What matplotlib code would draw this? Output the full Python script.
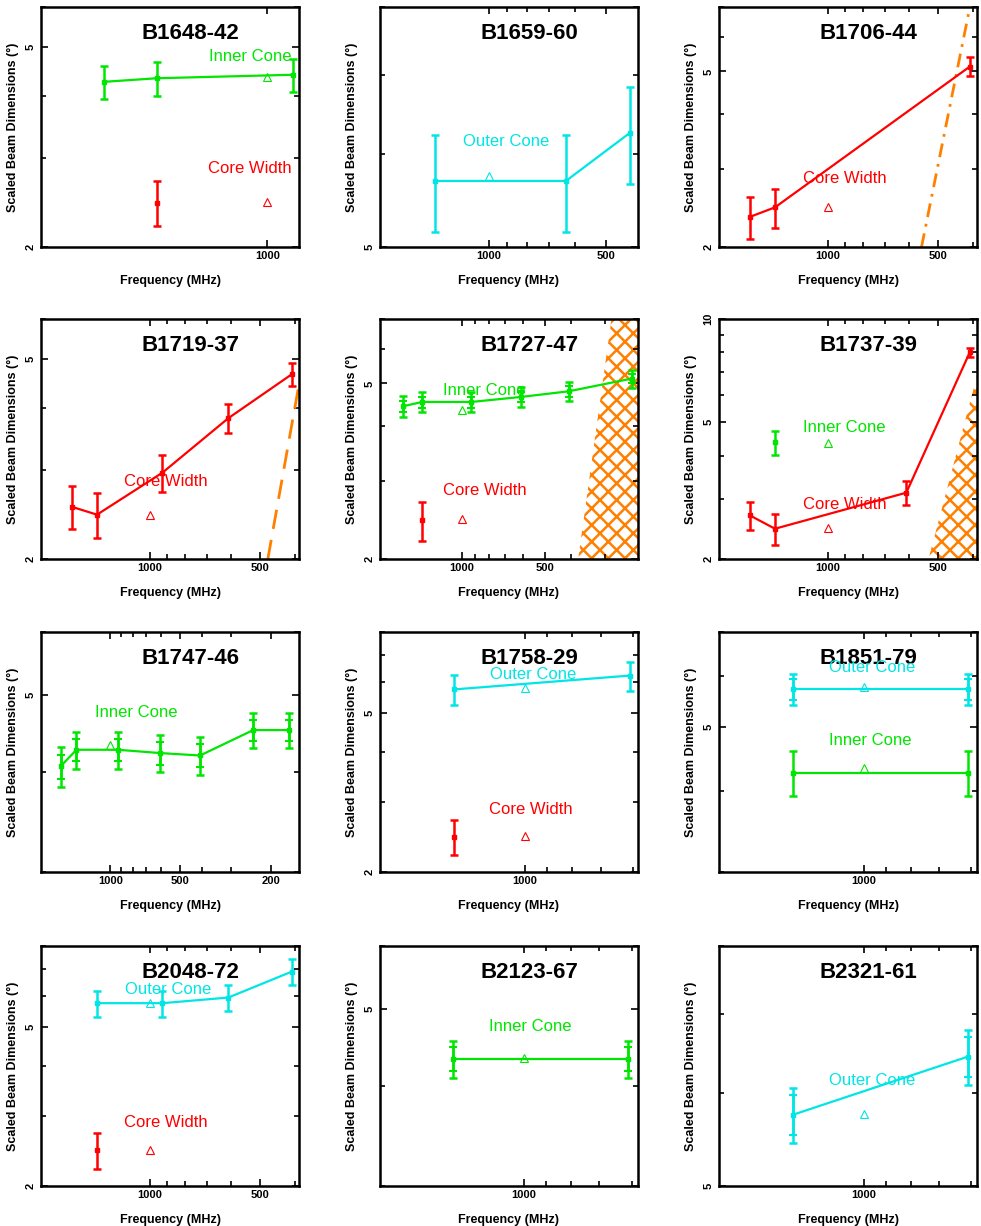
import numpy as np
import matplotlib.pyplot as plt
from matplotlib.ticker import FixedLocator, FuncFormatter, NullFormatter

plt.rcParams['font.family'] = ['Liberation Sans', 'DejaVu Sans']
plt.rcParams['hatch.linewidth'] = 1.8

GREEN = '#00e600'
CYAN = '#00e5e5'
RED = '#ff0000'
ORANGE = '#ff8000'

# panel names in reading order
names = ['B1648-42', 'B1659-60', 'B1706-44', 'B1719-37', 'B1727-47', 'B1737-39',
         'B1747-46', 'B1758-29', 'B1851-79', 'B2048-72', 'B2123-67', 'B2321-61']

# axis ranges, frequency axis runs from high to low
x_ranges = [(1990, 908), (1900, 415), (1995, 390), (1995, 390), (1995, 228), (1995, 390),
            (1995, 152), (1980, 587), (1995, 583), (1995, 390), (1980, 583), (1995, 583)]
y_ranges = [(2, 6), (5, 8), (2, 7), (2, 6), (2, 7), (2, 10),
            (3, 6), (2, 8), (3, 7), (2, 8), (3, 6), (5, 8)]

ref_freq = 1000   # open triangles sit at 1 GHz

# B1648-42
b1648_inner_f = [1642, 1400, 925]
b1648_inner_w = [4.26, 4.33, 4.40]
b1648_inner_e = [0.32, 0.34, 0.33]
b1648_core_f = [1400]
b1648_core_w = [2.45]
b1648_core_e = [0.25]
b1648_ref = [4.35, 2.46]

# B1659-60
b1659_outer_f = [1370, 635, 436]
b1659_outer_w = [5.69, 5.69, 6.25]
b1659_outer_e = [0.54, 0.54, 0.59]
b1659_ref = [5.75]

# B1706-44
b1706_core_f = [1642, 1400, 408]
b1706_core_w = [2.34, 2.46, 5.13]
b1706_core_e = [0.25, 0.25, 0.25]
b1706_ref = [2.46]
b1706_scat_f = [554, 408]
b1706_scat_w = [2.0, 7.0]

# B1719-37
b1719_core_f = [1642, 1400, 925, 610, 408]
b1719_core_w = [2.54, 2.45, 2.97, 3.81, 4.66]
b1719_core_e = [0.25, 0.25, 0.25, 0.25, 0.25]
b1719_ref = [2.45]
b1719_scat_f = [475, 390]
b1719_scat_w = [2.0, 4.45]

# B1727-47
b1727_inner_f = [1642, 1400, 925, 610, 408, 240]
b1727_inner_w = [4.44, 4.54, 4.54, 4.66, 4.80, 5.13]
b1727_inner_e = [0.24, 0.24, 0.24, 0.24, 0.24, 0.24]
b1727_inner_e2 = [0.13, 0.13, 0.13, 0.13, 0.13, 0.13]
b1727_core_f = [1400]
b1727_core_w = [2.45]
b1727_core_e = [0.25]
b1727_ref = [4.35, 2.46]
b1727_scat_f = [377, 285, 228, 228]
b1727_scat_w = [2.0, 7.0, 7.0, 2.0]

# B1737-39
b1737_core_f = [1642, 1400, 610, 408]
b1737_core_w = [2.68, 2.45, 3.12, 8.01]
b1737_core_e = [0.25, 0.25, 0.25, 0.25]
b1737_inner_f = [1400]
b1737_inner_w = [4.37]
b1737_inner_e = [0.36]
b1737_ref = [4.36, 2.46]
b1737_scat_f = [530, 390, 390]
b1737_scat_w = [2.0, 6.84, 2.0]

# B1747-46
b1747_inner_f = [1642, 1400, 925, 610, 408, 240, 168]
b1747_inner_w = [4.07, 4.27, 4.27, 4.23, 4.20, 4.52, 4.52]
b1747_inner_e = [0.23, 0.23, 0.23, 0.23, 0.23, 0.23, 0.23]
b1747_inner_e2 = [0.14, 0.14, 0.14, 0.14, 0.14, 0.14, 0.14]
b1747_ref = [4.33]

# B1758-29
b1758_outer_f = [1400, 610]
b1758_outer_w = [5.74, 6.22]
b1758_outer_e = [0.49, 0.52]
b1758_core_f = [1400]
b1758_core_w = [2.45]
b1758_core_e = [0.25]
b1758_ref = [5.78, 2.46]

# B1851-79
b1851_outer_f = [1400, 610]
b1851_outer_w = [5.72, 5.72]
b1851_outer_e = [0.31, 0.31]
b1851_outer_e2 = [0.21, 0.21]
b1851_inner_f = [1400, 610]
b1851_inner_w = [4.26, 4.26]
b1851_inner_e = [0.34, 0.34]
b1851_ref = [5.76, 4.33]

# B2048-72
b2048_outer_f = [1400, 925, 610, 408]
b2048_outer_w = [5.75, 5.75, 5.94, 6.90]
b2048_outer_e = [0.43, 0.43, 0.45, 0.53]
b2048_core_f = [1400]
b2048_core_w = [2.46]
b2048_core_e = [0.25]
b2048_ref = [5.75, 2.46]

# B2123-67
b2123_inner_f = [1400, 610]
b2123_inner_w = [4.33, 4.33]
b2123_inner_e = [0.23, 0.23]
b2123_inner_e2 = [0.15, 0.15]
b2123_ref = [4.34]

# B2321-61
b2321_outer_f = [1400, 610]
b2321_outer_w = [5.75, 6.44]
b2321_outer_e = [0.31, 0.35]
b2321_outer_e2 = [0.22, 0.25]
b2321_ref = [5.76]

# per-panel drawing lists: (freq, width, err, inner err, colour)
series = [
    [(b1648_inner_f, b1648_inner_w, b1648_inner_e, None, GREEN),
     (b1648_core_f, b1648_core_w, b1648_core_e, None, RED)],
    [(b1659_outer_f, b1659_outer_w, b1659_outer_e, None, CYAN)],
    [(b1706_core_f, b1706_core_w, b1706_core_e, None, RED)],
    [(b1719_core_f, b1719_core_w, b1719_core_e, None, RED)],
    [(b1727_inner_f, b1727_inner_w, b1727_inner_e, b1727_inner_e2, GREEN),
     (b1727_core_f, b1727_core_w, b1727_core_e, None, RED)],
    [(b1737_core_f, b1737_core_w, b1737_core_e, None, RED),
     (b1737_inner_f, b1737_inner_w, b1737_inner_e, None, GREEN)],
    [(b1747_inner_f, b1747_inner_w, b1747_inner_e, b1747_inner_e2, GREEN)],
    [(b1758_outer_f, b1758_outer_w, b1758_outer_e, None, CYAN),
     (b1758_core_f, b1758_core_w, b1758_core_e, None, RED)],
    [(b1851_outer_f, b1851_outer_w, b1851_outer_e, b1851_outer_e2, CYAN),
     (b1851_inner_f, b1851_inner_w, b1851_inner_e, None, GREEN)],
    [(b2048_outer_f, b2048_outer_w, b2048_outer_e, None, CYAN),
     (b2048_core_f, b2048_core_w, b2048_core_e, None, RED)],
    [(b2123_inner_f, b2123_inner_w, b2123_inner_e, b2123_inner_e2, GREEN)],
    [(b2321_outer_f, b2321_outer_w, b2321_outer_e, b2321_outer_e2, CYAN)],
]
refs = [
    [(b1648_ref[0], GREEN), (b1648_ref[1], RED)],
    [(b1659_ref[0], CYAN)],
    [(b1706_ref[0], RED)],
    [(b1719_ref[0], RED)],
    [(b1727_ref[0], GREEN), (b1727_ref[1], RED)],
    [(b1737_ref[0], GREEN), (b1737_ref[1], RED)],
    [(b1747_ref[0], GREEN)],
    [(b1758_ref[0], CYAN), (b1758_ref[1], RED)],
    [(b1851_ref[0], CYAN), (b1851_ref[1], GREEN)],
    [(b2048_ref[0], CYAN), (b2048_ref[1], RED)],
    [(b2123_ref[0], GREEN)],
    [(b2321_ref[0], CYAN)],
]
labels = [
    [('Inner Cone', 0.81, 0.794, GREEN), ('Core Width', 0.81, 0.326, RED)],
    [('Outer Cone', 0.489, 0.44, CYAN)],
    [('Core Width', 0.486, 0.285, RED)],
    [('Core Width', 0.482, 0.322, RED)],
    [('Inner Cone', 0.406, 0.703, GREEN), ('Core Width', 0.406, 0.286, RED)],
    [('Inner Cone', 0.486, 0.549, GREEN), ('Core Width', 0.486, 0.228, RED)],
    [('Inner Cone', 0.37, 0.665, GREEN)],
    [('Outer Cone', 0.594, 0.821, CYAN), ('Core Width', 0.584, 0.261, RED)],
    [('Outer Cone', 0.595, 0.854, CYAN), ('Inner Cone', 0.588, 0.547, GREEN)],
    [('Outer Cone', 0.491, 0.818, CYAN), ('Core Width', 0.482, 0.264, RED)],
    [('Inner Cone', 0.583, 0.663, GREEN)],
    [('Outer Cone', 0.595, 0.441, CYAN)],
]

# log ticks: labelled at 1, 2, 5 x 10^n, plain ticks between
major_ticks = [m * 10.0 ** d for d in range(0, 4) for m in (1, 2, 5)]
minor_ticks = [m * 10.0 ** d for d in range(0, 4) for m in (3, 4, 6, 7, 8, 9)]

fig = plt.figure(figsize=(9.81, 12.26), dpi=100)
W, H = 981.0, 1226.0
col_left = [41, 380, 719]
row_bottom = [247, 559, 872, 1186]
aw, ah = 258, 240

label_fmt = FuncFormatter(lambda v, p: '%g' % v)

for i, name in enumerate(names):
    r, c = divmod(i, 3)
    ax = fig.add_axes([col_left[c] / W, 1 - row_bottom[r] / H, aw / W, ah / H])
    ax.set_xscale('log')
    ax.set_yscale('log')

    for f, w, e, e2, col in series[i]:
        if len(f) > 1:
            ax.plot(f, w, color=col, lw=1.6, zorder=3)
        ax.errorbar(f, w, yerr=e, fmt='s', ms=3, color=col, ecolor=col,
                    elinewidth=1.8, capsize=3, capthick=1.8, zorder=4)
        if e2 is not None:
            ax.errorbar(f, w, yerr=e2, fmt='none', ecolor=col,
                        elinewidth=1.8, capsize=3, capthick=1.5, zorder=4)
    for val, col in refs[i]:
        ax.plot([ref_freq], [val], '^', mfc='none', mec=col, ms=5.5, mew=0.8, zorder=5)
    for txt, tx, ty, col in labels[i]:
        ax.text(tx, ty, txt, transform=ax.transAxes, color=col, fontsize=12,
                ha='center', va='center', zorder=6)

    if name == 'B1706-44':
        ax.plot(b1706_scat_f, b1706_scat_w, color=ORANGE, lw=2,
                ls=(0, (5, 2.5, 1, 2.5)))
    if name == 'B1719-37':
        ax.plot(b1719_scat_f, b1719_scat_w, color=ORANGE, lw=2, ls=(0, (7, 4)))
    if name == 'B1727-47':
        ax.fill(b1727_scat_f, b1727_scat_w, facecolor='none', edgecolor=ORANGE,
                hatch='xx', linewidth=0)
    if name == 'B1737-39':
        ax.fill(b1737_scat_f, b1737_scat_w, facecolor='none', edgecolor=ORANGE,
                hatch='xx', linewidth=0)

    ax.text(0.58, 0.89, name, transform=ax.transAxes, fontsize=16,
            fontweight='bold', ha='center', va='center')

    ax.set_xlim(x_ranges[i])
    ax.set_ylim(y_ranges[i])
    for axis in (ax.xaxis, ax.yaxis):
        axis.set_major_locator(FixedLocator(major_ticks))
        axis.set_minor_locator(FixedLocator(minor_ticks))
        axis.set_major_formatter(label_fmt)
        axis.set_minor_formatter(NullFormatter())
    ax.tick_params(which='both', direction='in', top=True, right=True, width=1.2)
    ax.tick_params(which='major', length=5)
    ax.tick_params(which='minor', length=3.5)
    ax.tick_params(axis='x', labelsize=8, pad=3)
    ax.tick_params(axis='y', labelsize=8, pad=4, labelrotation=90)
    for lab in ax.get_xticklabels() + ax.get_yticklabels():
        lab.set_fontweight('bold')
    for lab in ax.get_yticklabels():
        lab.set_va('center')
    for sp in ax.spines.values():
        sp.set_linewidth(1.8)

    ax.set_xlabel('Frequency (MHz)', fontsize=9, fontweight='bold')
    ax.set_ylabel('Scaled Beam Dimensions (°)', fontsize=9, fontweight='bold')
    ax.xaxis.set_label_coords(0.5, -0.115)
    ax.yaxis.set_label_coords(-0.085, 0.5)

fig.savefig('out.png', dpi=100)
